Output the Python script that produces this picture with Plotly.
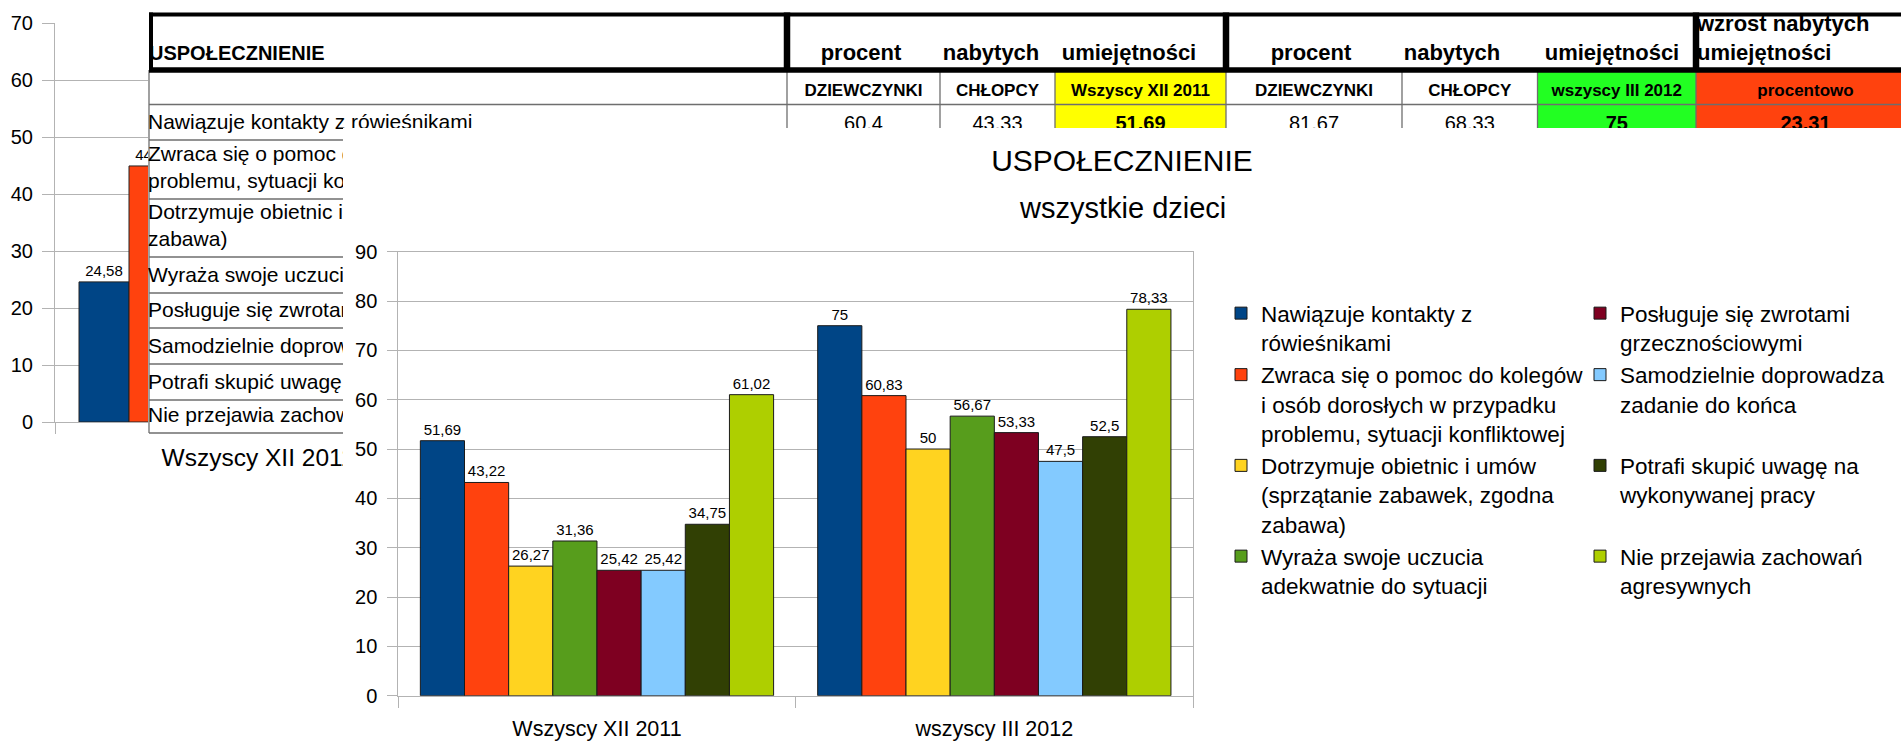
import plotly.graph_objects as go

W, H = 1901, 743
FONT = "Liberation Sans, Arial, sans-serif"

# ---------------- data ----------------
CATEGORIES = ["Wszyscy XII 2011", "wszyscy III 2012"]
SERIES = [
    "Nawiązuje kontakty z<br>rówieśnikami",
    "Zwraca się o pomoc do kolegów<br>i osób dorosłych w przypadku<br>problemu, sytuacji konfliktowej",
    "Dotrzymuje obietnic i umów<br>(sprzątanie zabawek, zgodna<br>zabawa)",
    "Wyraża swoje uczucia<br>adekwatnie do sytuacji",
    "Posługuje się zwrotami<br>grzecznościowymi",
    "Samodzielnie doprowadza<br>zadanie do końca",
    "Potrafi skupić uwagę na<br>wykonywanej pracy",
    "Nie przejawia zachowań<br>agresywnych",
]
VALUES_2011 = [51.69, 43.22, 26.27, 31.36, 25.42, 25.42, 34.75, 61.02]
VALUES_2012 = [75, 60.83, 50, 56.67, 53.33, 47.5, 52.5, 78.33]

# chart lying underneath (mostly hidden)
BG_VALUES = [24.58, 44.92]
BG_CATEGORY = "Wszyscy XII 2011"

# table lying underneath (mostly hidden)
TABLE_TITLE = "USPOŁECZNIENIE"
TABLE_HEADER = ["procent", "nabytych", "umiejętności", "procent", "nabytych", "umiejętności"]
TABLE_HEADER_LAST = "wzrost nabytych<br>umiejętności"
TABLE_SUBHEADER = ["DZIEWCZYNKI", "CHŁOPCY", "Wszyscy XII 2011", "DZIEWCZYNKI",
                   "CHŁOPCY", "wszyscy III 2012", "procentowo"]
TABLE_ROWS = [
    "Nawiązuje kontakty z rówieśnikami",
    "Zwraca się o pomoc do kolegów i osób dorosłych w przypadku<br>problemu, sytuacji konfliktowej",
    "Dotrzymuje obietnic i umów (sprzątanie zabawek, zgodna<br>zabawa)",
    "Wyraża swoje uczucia adekwatnie do sytuacji",
    "Posługuje się zwrotami grzecznościowymi",
    "Samodzielnie doprowadza zadanie do końca",
    "Potrafi skupić uwagę na wykonywanej pracy",
    "Nie przejawia zachowań agresywnych",
]
TABLE_ROW1_VALUES = [60.4, 43.33, 51.69, 81.67, 68.33, 75, 23.31]

# ---------------- styles / layout constants ----------------
COLORS = ["#004586", "#ff420e", "#ffd320", "#579d1c", "#7e0021", "#83caff", "#314004", "#aecf00"]
GRID = "#b3b3b3"
COL_EDGES = [149, 787, 940, 1055, 1226, 1402, 1537.5, 1696, 1915]
ROW_EDGES = [14.5, 70, 104.5, 140, 199, 257, 293, 328, 364, 400, 433]
HEADER_X = [861, 991, 1129, 1311, 1452, 1612]
FILL_COLS = {3: "#ffff00", 6: "#22ff22", 7: "#ff420e"}
BOLD_COLS = {3, 6, 7}
COVER_LEFT, COVER_TOP = 343, 128


def fx(px):
    return px / W


def fy(py):
    return 1 - py / H


def fmt(v):
    return f"{v:g}".replace(".", ",")


def nlines(t):
    return t.count("<br>") + 1


fig = go.Figure()

# ---- 1. chart underneath ----
fig.add_trace(go.Bar(
    x=list(range(len(BG_VALUES))), y=BG_VALUES, width=1,
    marker=dict(color=COLORS[:len(BG_VALUES)], line=dict(color="#222222", width=1)),
    text=[fmt(v) for v in BG_VALUES], textposition="outside",
    textfont=dict(size=15, color="black", family=FONT),
    xaxis="x", yaxis="y", showlegend=False, hoverinfo="skip"))

# ---- 2. table ----
centers = [(COL_EDGES[i] + COL_EDGES[i + 1]) / 2 for i in range(len(COL_EDGES) - 1)]


def text_trace(xs, ys, texts, size, pos, bold=False):
    return go.Scatter(
        x=xs, y=ys, text=texts, mode="text", textposition=pos,
        textfont=dict(size=size, color="black", family=FONT,
                      weight="bold" if bold else "normal"),
        xaxis="x2", yaxis="y2", showlegend=False, hoverinfo="skip")


fig.add_trace(text_trace([149], [55], [TABLE_TITLE], 20, "middle right", True))
fig.add_trace(text_trace(HEADER_X, [54] * len(HEADER_X), TABLE_HEADER, 22, "middle center", True))
fig.add_trace(text_trace([1697], [40], [TABLE_HEADER_LAST], 22, "middle right", True))
fig.add_trace(text_trace(centers[1:], [91.5] * len(TABLE_SUBHEADER), TABLE_SUBHEADER, 17, "middle center", True))
reg = [i for i in range(len(TABLE_ROW1_VALUES)) if i + 1 not in BOLD_COLS]
bld = [i for i in range(len(TABLE_ROW1_VALUES)) if i + 1 in BOLD_COLS]
fig.add_trace(text_trace([centers[i + 1] for i in reg], [125] * len(reg),
                         [fmt(TABLE_ROW1_VALUES[i]) for i in reg], 20, "middle center"))
fig.add_trace(text_trace([centers[i + 1] for i in bld], [125] * len(bld),
                         [fmt(TABLE_ROW1_VALUES[i]) for i in bld], 20, "middle center", True))
LH = 27
row_y = [ROW_EDGES[i + 3] - 16 - (nlines(t) - 1) * LH / 2 for i, t in enumerate(TABLE_ROWS)]
fig.add_trace(text_trace([148] * len(TABLE_ROWS), row_y, TABLE_ROWS, 21, "middle right"))

shapes = []
for c, col in FILL_COLS.items():
    shapes.append(dict(type="rect", xref="x2", yref="y2", layer="below",
                       x0=COL_EDGES[c], x1=COL_EDGES[c + 1], y0=ROW_EDGES[1], y1=ROW_EDGES[-1],
                       fillcolor=col, line=dict(width=0)))
for yv in ROW_EDGES[2:]:
    shapes.append(dict(type="line", xref="x2", yref="y2", layer="below",
                       x0=COL_EDGES[0], x1=COL_EDGES[-1], y0=yv, y1=yv,
                       line=dict(color="#6e6e6e", width=1.3)))
for xv in COL_EDGES[:-1]:
    shapes.append(dict(type="line", xref="x2", yref="y2", layer="below",
                       x0=xv, x1=xv, y0=ROW_EDGES[1], y1=ROW_EDGES[-1],
                       line=dict(color="#6e6e6e", width=1.3)))
shapes.append(dict(type="line", xref="x2", yref="y2", layer="below",
                   x0=COL_EDGES[0], x1=COL_EDGES[-1], y0=ROW_EDGES[0], y1=ROW_EDGES[0],
                   line=dict(color="black", width=4)))
shapes.append(dict(type="line", xref="x2", yref="y2", layer="below",
                   x0=COL_EDGES[0], x1=COL_EDGES[-1], y0=ROW_EDGES[1], y1=ROW_EDGES[1],
                   line=dict(color="black", width=5.5)))
shapes.append(dict(type="line", xref="x2", yref="y2", layer="below",
                   x0=COL_EDGES[0] + 2, x1=COL_EDGES[0] + 2, y0=ROW_EDGES[0] - 2, y1=ROW_EDGES[1] + 2,
                   line=dict(color="black", width=4)))
for c in (1, 4, 7):
    shapes.append(dict(type="line", xref="x2", yref="y2", layer="below",
                       x0=COL_EDGES[c], x1=COL_EDGES[c], y0=ROW_EDGES[0] - 2, y1=ROW_EDGES[1] + 2,
                       line=dict(color="black", width=6.5)))

# ---- 3. page of the main chart (white cover) ----
fig.add_trace(go.Scatter(x=[None], y=[None], mode="markers", xaxis="x3", yaxis="y3",
                         showlegend=False, hoverinfo="skip"))

# ---- 4. main chart ----
for i, name in enumerate(SERIES):
    vals = [VALUES_2011[i], VALUES_2012[i]]
    leg = "legend" if i < 4 else "legend2"
    label = name
    if i >= 4:
        pad = nlines(SERIES[i - 4]) - nlines(name)
        label = name + "<br>\u00a0" * max(pad, 0)
    fig.add_trace(go.Bar(
        x=CATEGORIES, y=vals, name=label,
        marker=dict(color=COLORS[i], line=dict(color="#1a1a1a", width=1)),
        text=[fmt(v) for v in vals], textposition="outside", constraintext="none",
        textfont=dict(size=15, color="black", family=FONT), cliponaxis=False,
        xaxis="x4", yaxis="y4", legend=leg, hoverinfo="skip"))

axis_common = dict(automargin=False, fixedrange=True)
leg_common = dict(yanchor="top", xanchor="left", valign="top", bgcolor="rgba(0,0,0,0)",
                  borderwidth=0, itemwidth=30, tracegroupgap=0,
                  font=dict(size=22.5, color="black", family=FONT))

fig.update_layout(
    template="none",
    width=W, height=H, margin=dict(l=0, r=0, t=0, b=0, pad=0),
    paper_bgcolor="white", plot_bgcolor="white",
    font=dict(family=FONT, color="black"),
    barmode="group", bargap=0.111, bargroupgap=0,
    showlegend=True,
    title=dict(text="USPOŁECZNIENIE", x=fx(1122), y=fy(160), xanchor="center", yanchor="middle",
               xref="paper", yref="paper", font=dict(size=30, color="black", family=FONT)),
    annotations=[dict(text="wszystkie dzieci", x=fx(1122), y=fy(208), xref="paper", yref="paper",
                      showarrow=False, xanchor="center", yanchor="middle",
                      font=dict(size=29, color="black", family=FONT))],
    shapes=shapes,
    legend=dict(x=fx(1221), y=fy(292), **leg_common),
    legend2=dict(x=fx(1580), y=fy(292), **leg_common),
    xaxis=dict(domain=[fx(55), fx(500)], range=[-0.98, 7.92], anchor="y",
               showline=True, linecolor=GRID, showgrid=False, zeroline=False,
               tickmode="array", tickvals=[3.5], ticktext=[BG_CATEGORY], ticks="",
               tickfont=dict(size=24.5, color="black"), ticklabelstandoff=14, ticklabelshift=-21,
               minor=dict(tickmode="array", tickvals=[-0.975], ticks="outside", ticklen=11,
                          tickcolor=GRID, showgrid=False), **axis_common),
    yaxis=dict(domain=[fy(422), fy(23)], range=[0, 70], dtick=10, anchor="x",
               showgrid=True, gridcolor=GRID, ticks="outside", ticklen=12, tickcolor=GRID,
               showline=True, linecolor=GRID, zeroline=False,
               tickfont=dict(size=20, color="black"), ticklabelstandoff=5, **axis_common),
    xaxis2=dict(domain=[fx(148), 1], range=[148, W], anchor="y2", visible=False, **axis_common),
    yaxis2=dict(domain=[fy(436), fy(11)], range=[436, 11], anchor="x2", visible=False, **axis_common),
    xaxis3=dict(domain=[fx(COVER_LEFT), 1], range=[0, 1], anchor="y3", visible=False, **axis_common),
    yaxis3=dict(domain=[0, fy(COVER_TOP)], range=[0, 1], anchor="x3", visible=False, **axis_common),
    xaxis4=dict(domain=[fx(398.3), fx(1193)], anchor="y4", type="category",
                tickson="boundaries", ticks="outside", ticklen=11, tickcolor=GRID,
                showline=True, mirror=True, linecolor=GRID, showgrid=False, zeroline=False,
                tickfont=dict(size=21.5, color="black"), ticklabelstandoff=13, **axis_common),
    yaxis4=dict(domain=[fy(695.7), fy(251.7)], range=[0, 90], dtick=10, anchor="x4",
                showgrid=True, gridcolor=GRID, ticks="outside", ticklen=10, tickcolor=GRID,
                showline=True, mirror=True, linecolor=GRID, zeroline=False,
                tickfont=dict(size=20, color="black"), ticklabelstandoff=6, **axis_common),
)

fig.write_html("out.html", config={"displayModeBar": False},
               post_script="document.body.style.margin='0';document.body.style.overflow='hidden';")
